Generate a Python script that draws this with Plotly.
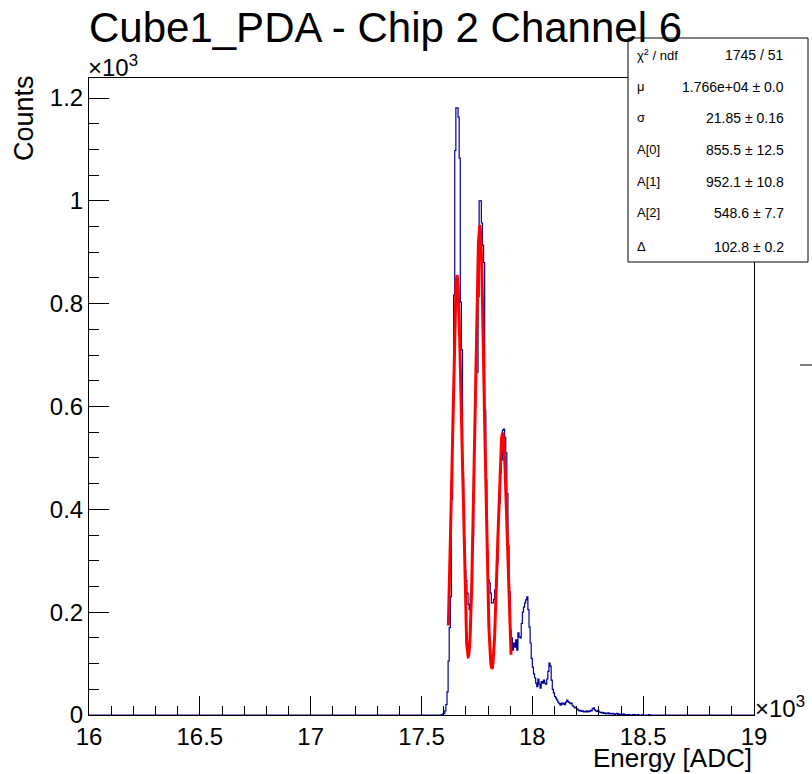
import numpy as np
import plotly.graph_objects as go

# ---------------- data ----------------
HIST_START = 17590.0      # lower edge of first listed bin (ADC)
HIST_WIDTH = 5.0          # bin width (ADC)
hist_counts = [
    1, 2, 3, 8, 20, 45, 105, 170, 230, 420,
    620, 817, 1098, 1181, 1181, 1163, 1083, 803, 710, 460,
    340, 282, 262, 237, 215, 205, 235, 253, 350, 520,
    600, 667, 667, 813, 1000, 1000, 957, 914, 880, 593,
    457, 321, 263, 257, 237, 218, 218, 225, 243, 250,
    296, 380, 412, 471, 496, 554, 556, 540, 510, 430,
    330, 240, 165, 150, 126, 140, 132, 146, 126, 160,
    152, 150, 178, 200, 210, 218, 224, 230, 205, 171,
    140, 110, 93, 80, 72, 62, 55, 70, 60, 52,
    65, 62, 68, 62, 60, 70, 85, 101, 95, 68,
    50, 43, 36, 33, 29, 25, 22, 19, 23, 21,
    23, 20, 25, 29, 26, 24, 22, 23, 18, 16,
    14, 15, 12, 10, 8, 9, 7, 8, 6, 7,
    6, 8, 6, 7, 9, 8, 12, 14, 10, 8,
    7, 9, 6, 5, 4, 5, 3, 4, 2, 3,
    4, 2, 3, 2, 3, 2, 1, 2, 3, 1,
    2, 1, 0, 1, 2, 0, 1, 1, 0, 1,
    0, 0, 1, 0, 1, 0, 0, 1, 0, 0,
    0, 1, 0, 0, 0, 0, 0, 1, 0, 0,
]

# fit parameters (three equally spaced gaussians, common sigma)
fit_mu = 17660.0
fit_sigma = 21.85
fit_amps = [855.5, 952.1, 548.6]
fit_delta = 102.8
fit_range = [17621.0, 17904.0]

stat_labels = ["χ<sup>2</sup> / ndf", "μ", "σ", "A[0]", "A[1]", "A[2]", "Δ"]
stat_values = ["1745 / 51", "1.766e+04 ± 0.0", "21.85 ± 0.16",
               "855.5 ± 12.5", "952.1 ± 10.8", "548.6 ± 7.7", "102.8 ± 0.2"]

x_tickvals = [16000, 16500, 17000, 17500, 18000, 18500, 19000]
x_ticktext = ["16", "16.5", "17", "17.5", "18", "18.5", "19"]
y_tickvals = [0, 200, 400, 600, 800, 1000, 1200]
y_ticktext = ["0", "0.2", "0.4", "0.6", "0.8", "1", "1.2"]

X_RANGE = [16000, 19000]
Y_RANGE = [0, 1239]

TITLE = "Cube1_PDA - Chip 2 Channel 6"
XTITLE = "Energy [ADC]"
YTITLE = "Counts"

# ---------------- layout geometry ----------------
W, H = 812, 774
L, R, T, B = 89, 58, 78, 59
PW, PH = W - L - R, H - T - B
FONT = "Liberation Sans, Arial, Helvetica, sans-serif"


def px(x):
    return (x - L) / PW


def py(y):
    return (H - B - y) / PH


# ---------------- traces ----------------
counts = np.array(hist_counts, dtype=float)
edges = HIST_START + HIST_WIDTH * np.arange(len(counts) + 1)
hx = np.concatenate([[X_RANGE[0]], edges[:-1], [edges[-1], X_RANGE[1]]])
hy = np.concatenate([[0.0], counts, [0.0, 0.0]])

fx = np.linspace(fit_range[0], fit_range[1], 600)
fy = np.zeros_like(fx)
for i, a in enumerate(fit_amps):
    fy += a * np.exp(-0.5 * ((fx - (fit_mu + i * fit_delta)) / fit_sigma) ** 2)

fig = go.Figure()
fig.add_trace(go.Scatter(x=hx, y=hy, mode="lines", line_shape="hv",
                         line=dict(color="#000099", width=1.2),
                         hoverinfo="skip", showlegend=False))
fig.add_trace(go.Scatter(x=fx, y=fy, mode="lines",
                         line=dict(color="#ff0000", width=3),
                         showlegend=False))

axis_common = dict(showgrid=False, zeroline=False, showline=True, mirror=True,
                   linecolor="black", linewidth=1, ticks="inside",
                   tickcolor="black", tickwidth=1,
                   tickfont=dict(family=FONT, size=24, color="black"))

fig.update_xaxes(range=X_RANGE, tickmode="array", tickvals=x_tickvals,
                 ticktext=x_ticktext, ticklen=19,
                 minor=dict(ticks="inside", ticklen=9, dtick=100, tick0=16000,
                            tickcolor="black", showgrid=False),
                 **axis_common)
fig.update_yaxes(range=Y_RANGE, tickmode="array", tickvals=y_tickvals,
                 ticktext=y_ticktext, ticklen=20,
                 minor=dict(ticks="inside", ticklen=10, dtick=50, tick0=0,
                            tickcolor="black", showgrid=False),
                 **axis_common)

annotations = [
    dict(text=TITLE, x=px(385), y=py(27), xanchor="center", yanchor="middle",
         font=dict(family=FONT, size=42, color="black")),
    dict(text=XTITLE, x=px(754), y=py(758), xanchor="right", yanchor="middle",
         font=dict(family=FONT, size=26, color="black")),
    dict(text=YTITLE, x=px(24), y=py(118), xanchor="center", yanchor="middle",
         textangle=-90, font=dict(family=FONT, size=27, color="black")),
    dict(text="×10<sup>3</sup>", x=px(86), y=py(83), xanchor="left", yanchor="bottom",
         font=dict(family=FONT, size=24, color="black")),
    dict(text="×10<sup>3</sup>", x=px(753), y=py(707), xanchor="left", yanchor="middle",
         font=dict(family=FONT, size=24, color="black")),
]

row_y = [55, 86.7, 118, 150, 181.7, 213, 246.7]
for lab, val, yy in zip(stat_labels, stat_values, row_y):
    annotations.append(dict(text=lab, x=px(635), y=py(yy), xanchor="left",
                            yanchor="middle",
                            font=dict(family=FONT, size=13, color="black")))
    annotations.append(dict(text=val, x=px(786), y=py(yy), xanchor="right",
                            yanchor="middle",
                            font=dict(family=FONT, size=14, color="black")))
for a in annotations:
    a.update(xref="paper", yref="paper", showarrow=False)

shapes = [
    dict(type="rect", xref="paper", yref="paper", x0=px(628), x1=px(808),
         y0=py(262), y1=py(38), line=dict(color="black", width=1),
         fillcolor="white", layer="above"),
    dict(type="line", xref="paper", yref="paper", x0=px(800), x1=px(812),
         y0=py(365), y1=py(365), line=dict(color="black", width=1)),
]

fig.update_layout(width=W, height=H, margin=dict(l=L, r=R, t=T, b=B),
                  paper_bgcolor="white", plot_bgcolor="white",
                  annotations=annotations, shapes=shapes,
                  font=dict(family=FONT, color="black"))

fig.write_html("out.html")
